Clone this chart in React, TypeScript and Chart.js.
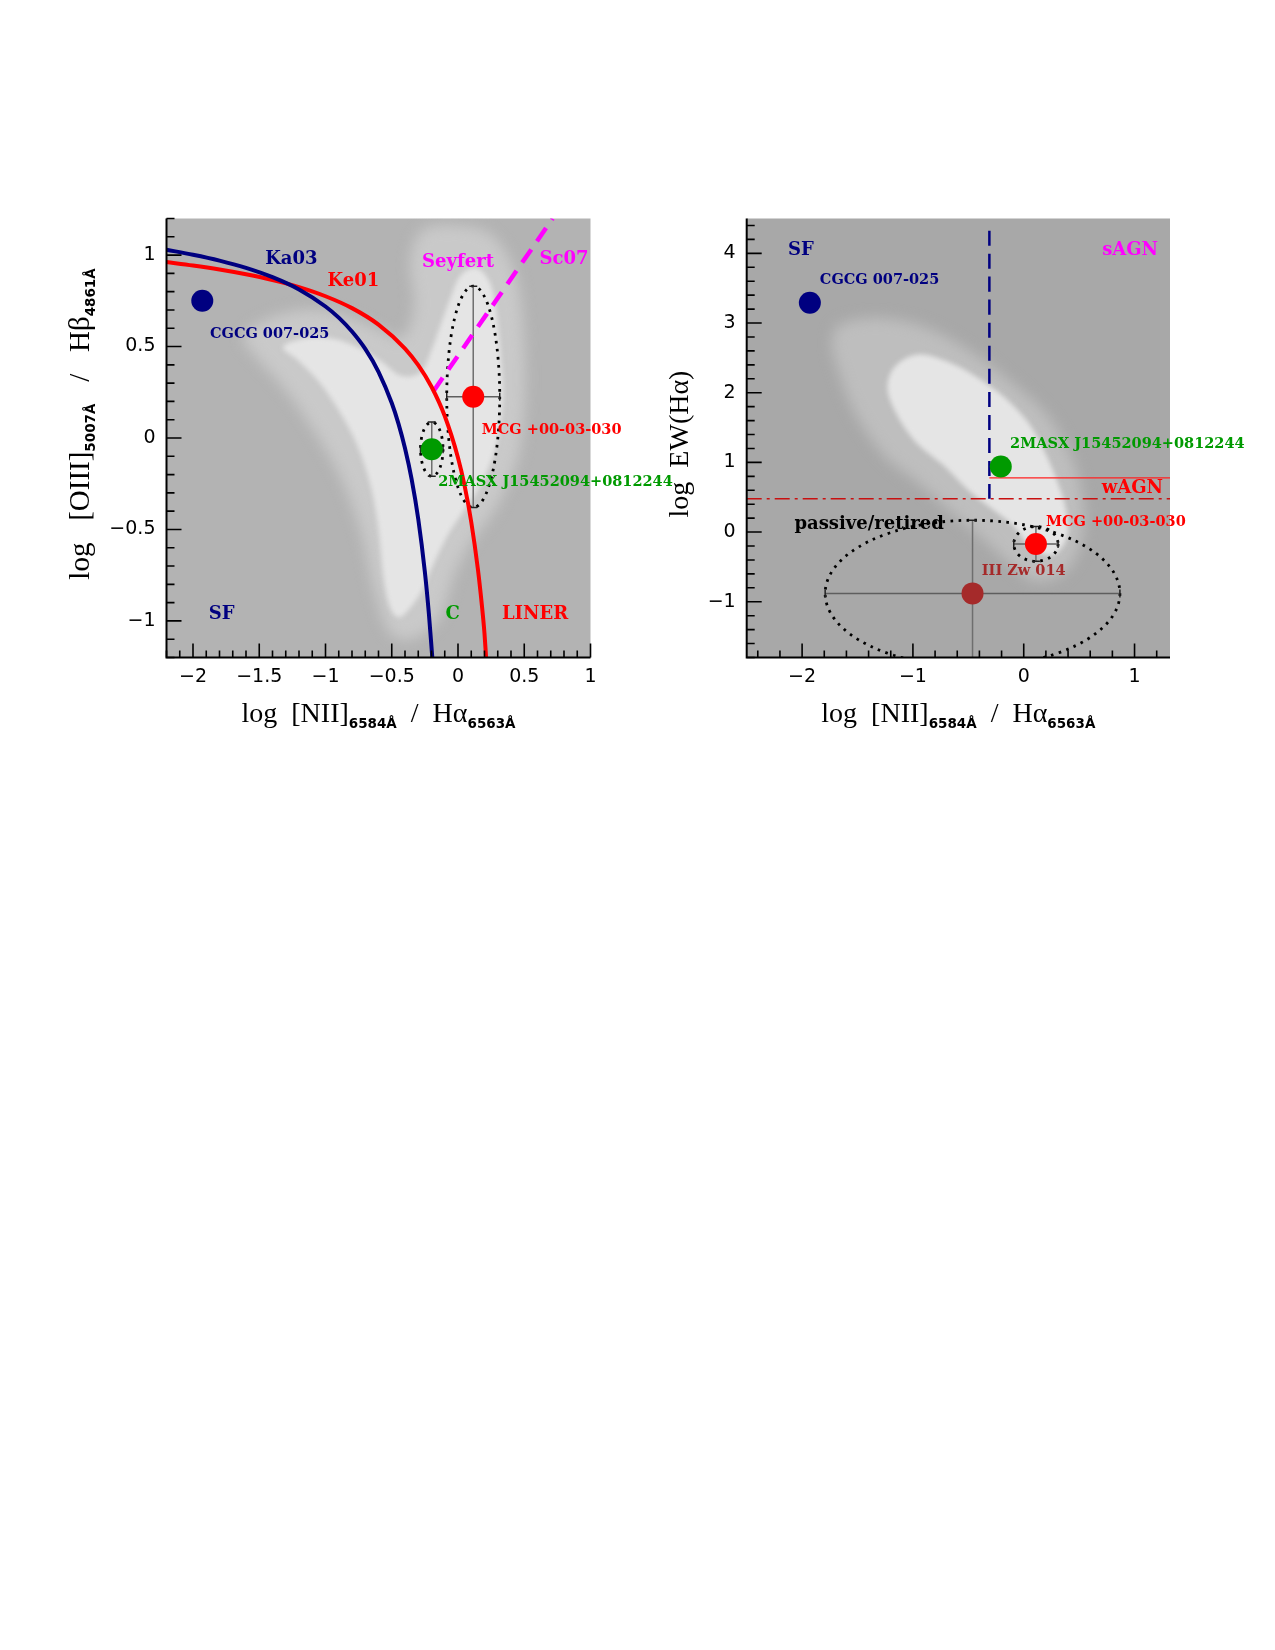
import React, { useEffect, useRef } from "react";
import { Chart, registerables } from "chart.js";

Chart.register(...registerables);

// ---------------- data ----------------
const GALAXY_NAMES = ["CGCG 007-025", "MCG +00-03-030", "2MASX J15452094+0812244", "III Zw 014"];
const GALAXY_COLORS = ["#000080", "#ff0000", "#009a00", "#a52a2a"];

// BPT diagram (log [NII]/Ha vs log [OIII]/Hb)
const BPT_X = [-1.93, 0.115, -0.198, null];
const BPT_Y = [0.75, 0.225, -0.061, null];
const BPT_XERR = [0, 0.2, 0.085, 0];
const BPT_YERR = [0, 0.605, 0.148, 0];
const BPT_NAME_X = [-1.872, 0.179, -0.149, null];
const BPT_NAME_Y = [0.57, 0.043, -0.24, null];

// WHAN diagram (log [NII]/Ha vs log EW(Ha))
const WHAN_X = [-1.93, 0.11, -0.207, -0.462];
const WHAN_Y = [3.29, -0.17, 0.94, -0.88];
const WHAN_XERR = [0, 0.2, 0, 1.33];
const WHAN_YERR = [0, 0.25, 0, 1.05];
const WHAN_NAME_X = [-1.84, 0.2, -0.123, -0.378];
const WHAN_NAME_Y = [3.61, 0.146, 1.255, -0.56];

// demarcation curves
const KA03_X = [-2.2, -2.0, -1.8, -1.6, -1.4, -1.2, -1.0, -0.9, -0.8, -0.7, -0.6, -0.5, -0.45, -0.4, -0.35, -0.3, -0.25, -0.22, -0.194];
const KA03_Y = [1.029, 1.002, 0.97, 0.93, 0.879, 0.812, 0.719, 0.658, 0.582, 0.487, 0.362, 0.191, 0.08, -0.056, -0.225, -0.443, -0.733, -0.959, -1.2];
const KE01_X = [-2.2, -2.0, -1.8, -1.6, -1.4, -1.2, -1.0, -0.8, -0.6, -0.4, -0.3, -0.2, -0.1, 0.0, 0.05, 0.1, 0.15, 0.18, 0.2, 0.212];
const KE01_Y = [0.962, 0.943, 0.921, 0.895, 0.864, 0.825, 0.775, 0.71, 0.62, 0.489, 0.398, 0.28, 0.12, -0.108, -0.262, -0.459, -0.716, -0.913, -1.069, -1.2];
const SC07_X = [-0.184, 0.714];
const SC07_Y = [0.257, 1.2];

// WHAN demarcation lines
const WHAN_SF_X = [-0.31, -0.31];
const WHAN_SF_Y = [0.477, 4.35];
const WHAN_WAGN_X = [-0.31, 1.32];
const WHAN_WAGN_Y = [0.778, 0.778];
const WHAN_PASSIVE_X = [-2.5, 1.32];
const WHAN_PASSIVE_Y = [0.477, 0.477];

// SDSS comparison sample outlines (sparse fringe and dense core)
const BPT_CLOUD_OUTER_X = [-1.62, -1.4, -1.15, -0.9, -0.62, -0.42, -0.33, -0.36, -0.26, 0.02, 0.27, 0.44, 0.5, 0.5, 0.44, 0.28, 0.1, -0.03, -0.13, -0.28, -0.44, -0.55, -0.65, -0.73, -0.87, -1.07, -1.3, -1.52];
const BPT_CLOUD_OUTER_Y = [0.56, 0.66, 0.7, 0.68, 0.6, 0.55, 0.72, 0.97, 1.14, 1.16, 1.1, 0.88, 0.52, 0.14, -0.14, -0.39, -0.57, -0.75, -0.97, -1.08, -1.1, -1.02, -0.78, -0.52, -0.24, 0.02, 0.26, 0.44];
const BPT_CLOUD_INNER_X = [-1.32, -1.12, -0.92, -0.74, -0.58, -0.43, -0.28, -0.2, -0.14, -0.06, 0.02, 0.14, 0.24, 0.29, 0.32, 0.34, 0.29, 0.17, 0.04, -0.06, -0.14, -0.21, -0.26, -0.34, -0.44, -0.51, -0.56, -0.6, -0.66, -0.76, -0.89, -1.04, -1.2];
const BPT_CLOUD_INNER_Y = [0.5, 0.55, 0.54, 0.49, 0.42, 0.34, 0.36, 0.48, 0.6, 0.76, 0.89, 0.93, 0.85, 0.69, 0.47, 0.22, -0.04, -0.26, -0.4, -0.51, -0.62, -0.73, -0.82, -0.91, -0.98, -0.93, -0.77, -0.5, -0.26, -0.04, 0.14, 0.3, 0.42];
const WHAN_CLOUD_OUTER_X = [-1.65, -1.29, -0.87, -0.45, -0.09, 0.21, 0.43, 0.54, 0.51, 0.35, 0.1, -0.09, -0.35, -0.63, -0.96, -1.26, -1.52, -1.67, -1.73];
const WHAN_CLOUD_OUTER_Y = [2.98, 3.07, 2.93, 2.56, 2.12, 1.68, 1.08, 0.4, -0.2, -0.6, -0.7, -0.5, -0.12, 0.26, 0.72, 1.1, 1.7, 2.31, 2.72];
const WHAN_CLOUD_INNER_X = [-1.16, -0.95, -0.65, -0.4, -0.15, 0.05, 0.18, 0.29, 0.37, 0.4, 0.33, 0.21, 0.05, -0.1, -0.3, -0.5, -0.72, -0.98, -1.15, -1.23];
const WHAN_CLOUD_INNER_Y = [2.38, 2.55, 2.42, 2.2, 1.9, 1.55, 1.18, 0.78, 0.4, 0.01, -0.25, -0.33, -0.2, 0.1, 0.35, 0.6, 0.95, 1.3, 1.7, 2.07];

// region labels
const BPT_REGION_TEXT = ["Ka03", "Ke01", "Seyfert", "Sc07", "SF", "C", "LINER"];
const BPT_REGION_X = [-1.258, -0.79, 0.0, 0.8, -1.783, -0.04, 0.581];
const BPT_REGION_Y = [0.977, 0.855, 0.962, 0.977, -0.963, -0.963, -0.963];
const BPT_REGION_COLOR = ["#000080", "#ff0000", "#ff00ff", "#ff00ff", "#000080", "#009a00", "#ff0000"];
const WHAN_REGION_TEXT = ["SF", "sAGN", "wAGN", "passive/retired"];
const WHAN_REGION_X = [-2.01, 0.96, 0.98, -1.395];
const WHAN_REGION_Y = [4.04, 4.05, 0.625, 0.109];
const WHAN_REGION_COLOR = ["#000080", "#ff00ff", "#ff0000", "#000000"];

// axes
const BPT_X_RANGE = [-2.2, 1.0];
const BPT_Y_RANGE = [-1.2, 1.2];
const BPT_X_TICKS = [-2, -1.5, -1, -0.5, 0, 0.5, 1];
const BPT_Y_TICKS = [-1, -0.5, 0, 0.5, 1];
const WHAN_X_RANGE = [-2.5, 1.32];
const WHAN_Y_RANGE = [-1.8, 4.5];
const WHAN_X_TICKS = [-2, -1, 0, 1];
const WHAN_Y_TICKS = [-1, 0, 1, 2, 3, 4];

// ---------------- helpers ----------------
const NAME_FONT = "bold 14.5px 'DejaVu Serif'";
const REGION_FONT = "bold 18px 'DejaVu Serif'";
const SUB_FONT = "bold 13.5px 'DejaVu Sans'";

function fmtTick(v: number) {
  const s = String(Math.round(v * 10) / 10);
  return s.replace("-", "\u2212");
}

function zip(xs: any[], ys: any[]) {
  const out: { x: number; y: number }[] = [];
  xs.forEach((x, i) => {
    if (x !== null && ys[i] !== null) out.push({ x, y: ys[i] });
  });
  return out;
}

function smoothClosed(ctx: CanvasRenderingContext2D, pts: { x: number; y: number }[]) {
  const n = pts.length;
  ctx.beginPath();
  ctx.moveTo(pts[0].x, pts[0].y);
  for (let i = 0; i < n; i++) {
    const p0 = pts[(i - 1 + n) % n];
    const p1 = pts[i];
    const p2 = pts[(i + 1) % n];
    const p3 = pts[(i + 2) % n];
    ctx.bezierCurveTo(
      p1.x + (p2.x - p0.x) / 6,
      p1.y + (p2.y - p0.y) / 6,
      p2.x - (p3.x - p1.x) / 6,
      p2.y - (p3.y - p1.y) / 6,
      p2.x,
      p2.y
    );
  }
  ctx.closePath();
}

type Seg = { t: string; sub?: boolean };

function drawTitle(ctx: CanvasRenderingContext2D, segs: Seg[], cx: number, cy: number, rotate: boolean, mainFont: string) {
  ctx.save();
  ctx.translate(cx, cy);
  if (rotate) ctx.rotate(-Math.PI / 2);
  let total = 0;
  const widths = segs.map((s) => {
    ctx.font = s.sub ? SUB_FONT : mainFont;
    const w = ctx.measureText(s.t).width;
    total += w;
    return w;
  });
  let x = -total / 2;
  ctx.fillStyle = "#000";
  ctx.textAlign = "left";
  ctx.textBaseline = "alphabetic";
  segs.forEach((s, i) => {
    ctx.font = s.sub ? SUB_FONT : mainFont;
    ctx.fillText(s.t, x, s.sub ? 15 : 9);
    x += widths[i];
  });
  ctx.restore();
}

interface PanelCfg {
  key: string;
  bg: string;
  fringe: string;
  outer: { x: number; y: number }[];
  inner: { x: number; y: number }[];
  px: any[];
  py: any[];
  xerr: number[];
  yerr: number[];
  ellipse: boolean[];
  names: any[];
  nameX: any[];
  nameY: any[];
  regionText: string[];
  regionX: number[];
  regionY: number[];
  regionColor: string[];
  xMajor: number[];
  yMajor: number[];
  xMinor: number;
  yMinor: number;
  xTitle: Seg[];
  yTitle: Seg[];
  xTitleFont: string;
  yTitleFont: string;
  yTitleDx: number;
  yTitleDy: number;
}

function makePlugin(cfg: PanelCfg) {
  return {
    id: "panel_" + cfg.key,
    beforeDraw(chart: any) {
      const { ctx, chartArea: a } = chart;
      ctx.save();
      ctx.fillStyle = cfg.bg;
      ctx.fillRect(a.left, a.top, a.right - a.left, a.bottom - a.top);
      ctx.restore();
    },
    beforeDatasetsDraw(chart: any) {
      const { ctx, chartArea: a } = chart;
      const xs = chart.scales.x;
      const ys = chart.scales.y;
      const toPx = (p: { x: number; y: number }) => ({ x: xs.getPixelForValue(p.x), y: ys.getPixelForValue(p.y) });
      ctx.save();
      ctx.beginPath();
      ctx.rect(a.left, a.top, a.right - a.left, a.bottom - a.top);
      ctx.clip();
      // comparison sample cloud
      ctx.filter = "blur(7px)";
      ctx.fillStyle = cfg.fringe;
      smoothClosed(ctx, cfg.outer.map(toPx));
      ctx.fill();
      ctx.filter = "blur(2.5px)";
      ctx.fillStyle = "#e5e5e5";
      smoothClosed(ctx, cfg.inner.map(toPx));
      ctx.fill();
      ctx.filter = "none";
      // error ellipses and bars
      cfg.px.forEach((x, i) => {
        if (x === null) return;
        const y = cfg.py[i];
        const cx = xs.getPixelForValue(x);
        const cy = ys.getPixelForValue(y);
        const ex = cfg.xerr[i];
        const ey = cfg.yerr[i];
        const rx = Math.abs(xs.getPixelForValue(x + ex) - cx);
        const ry = Math.abs(ys.getPixelForValue(y + ey) - cy);
        if (cfg.ellipse[i] && rx > 0 && ry > 0) {
          ctx.save();
          ctx.strokeStyle = "#000";
          ctx.lineWidth = 2.8;
          ctx.setLineDash([2.6, 5.4]);
          ctx.beginPath();
          ctx.ellipse(cx, cy, rx, ry, 0, 0, Math.PI * 2);
          ctx.stroke();
          ctx.restore();
        }
        ctx.save();
        ctx.lineWidth = 1.5;
        if (ex > 0) {
          ctx.strokeStyle = "#5e5e5e";
          ctx.beginPath();
          ctx.moveTo(cx - rx, cy);
          ctx.lineTo(cx + rx, cy);
          ctx.stroke();
          ctx.strokeStyle = "#222";
          ctx.beginPath();
          ctx.moveTo(cx - rx, cy - 4);
          ctx.lineTo(cx - rx, cy + 4);
          ctx.moveTo(cx + rx, cy - 4);
          ctx.lineTo(cx + rx, cy + 4);
          ctx.stroke();
        }
        if (ey > 0) {
          ctx.strokeStyle = "#6e6e6e";
          ctx.beginPath();
          ctx.moveTo(cx, cy - ry);
          ctx.lineTo(cx, cy + ry);
          ctx.stroke();
          ctx.strokeStyle = "#222";
          ctx.beginPath();
          ctx.moveTo(cx - 4, cy - ry);
          ctx.lineTo(cx + 4, cy - ry);
          ctx.moveTo(cx - 4, cy + ry);
          ctx.lineTo(cx + 4, cy + ry);
          ctx.stroke();
        }
        ctx.restore();
      });
      ctx.restore();
    },
    afterDraw(chart: any) {
      const { ctx, chartArea: a } = chart;
      const xs = chart.scales.x;
      const ys = chart.scales.y;
      ctx.save();
      // axes
      ctx.strokeStyle = "#000";
      ctx.lineWidth = 2;
      ctx.beginPath();
      ctx.moveTo(a.left, a.top);
      ctx.lineTo(a.left, a.bottom);
      ctx.lineTo(a.right, a.bottom);
      ctx.stroke();
      ctx.lineWidth = 1.6;
      const near = (v: number, arr: number[]) => arr.some((m) => Math.abs(m - v) < 1e-6);
      ctx.beginPath();
      const xStart = Math.ceil(xs.min / cfg.xMinor - 1e-6);
      for (let k = xStart; k * cfg.xMinor <= xs.max + 1e-6; k++) {
        const v = Math.round(k * cfg.xMinor * 1000) / 1000;
        const p = xs.getPixelForValue(v);
        const len = near(v, cfg.xMajor) ? 14 : 7;
        ctx.moveTo(p, a.bottom);
        ctx.lineTo(p, a.bottom - len);
      }
      const yStart = Math.ceil(ys.min / cfg.yMinor - 1e-6);
      for (let k = yStart; k * cfg.yMinor <= ys.max + 1e-6; k++) {
        const v = Math.round(k * cfg.yMinor * 1000) / 1000;
        const p = ys.getPixelForValue(v);
        const len = near(v, cfg.yMajor) ? 15 : 8;
        ctx.moveTo(a.left, p);
        ctx.lineTo(a.left + len, p);
      }
      ctx.stroke();
      // region labels
      ctx.textBaseline = "middle";
      ctx.textAlign = "center";
      ctx.font = REGION_FONT;
      cfg.regionText.forEach((t, i) => {
        ctx.fillStyle = cfg.regionColor[i];
        ctx.fillText(t, xs.getPixelForValue(cfg.regionX[i]), ys.getPixelForValue(cfg.regionY[i]));
      });
      // galaxy names
      ctx.textAlign = "left";
      ctx.font = NAME_FONT;
      cfg.names.forEach((t, i) => {
        if (cfg.nameX[i] === null) return;
        ctx.fillStyle = GALAXY_COLORS[i];
        ctx.fillText(t, xs.getPixelForValue(cfg.nameX[i]), ys.getPixelForValue(cfg.nameY[i]));
      });
      // axis titles
      drawTitle(ctx, cfg.xTitle, (a.left + a.right) / 2, a.bottom + 55, false, cfg.xTitleFont);
      drawTitle(ctx, cfg.yTitle, a.left - cfg.yTitleDx, (a.top + a.bottom) / 2 + cfg.yTitleDy, true, cfg.yTitleFont);
      ctx.restore();
    },
  };
}

const X_TITLE: Seg[] = [
  { t: "log  [NII]" },
  { t: "6584\u00c5", sub: true },
  { t: "  /  H\u03b1" },
  { t: "6563\u00c5", sub: true },
];
const BPT_Y_TITLE: Seg[] = [
  { t: "log   [OIII]" },
  { t: "5007\u00c5", sub: true },
  { t: "   /   H\u03b2" },
  { t: "4861\u00c5", sub: true },
];
const WHAN_Y_TITLE: Seg[] = [{ t: "log  EW(H\u03b1)" }];

function scaleOpts(range: number[], ticks: number[], isX: boolean, size: number) {
  return {
    type: "linear",
    min: range[0],
    max: range[1],
    grid: { display: false, drawTicks: false },
    border: { display: false },
    ticks: {
      color: "#000",
      font: { family: "'DejaVu Sans'", size: 19 },
      padding: isX ? 8 : 11,
      maxRotation: 0,
      autoSkip: false,
      includeBounds: false,
      callback: (v: number) => fmtTick(v),
    },
    afterBuildTicks: (s: any) => {
      s.ticks = ticks.map((v) => ({ value: v }));
    },
    afterFit: (s: any) => {
      if (isX) s.height = size;
      else s.width = size;
    },
  };
}

function lineDs(xs: number[], ys: number[], color: string, width: number, dash: number[], order: number) {
  return {
    type: "line",
    data: zip(xs, ys),
    borderColor: color,
    borderWidth: width,
    borderDash: dash,
    pointRadius: 0,
    fill: false,
    tension: 0,
    cubicInterpolationMode: "monotone",
    order,
  };
}

function pointDs(xs: any[], ys: any[]) {
  const data: any[] = [];
  const colors: string[] = [];
  xs.forEach((x, i) => {
    if (x === null) return;
    data.push({ x, y: ys[i] });
    colors.push(GALAXY_COLORS[i]);
  });
  return {
    type: "scatter",
    data,
    pointRadius: 11,
    pointBackgroundColor: colors,
    pointBorderWidth: 0,
    pointBorderColor: colors,
    showLine: false,
    order: 0,
  };
}

function baseOptions(padRight: number, xScale: any, yScale: any) {
  return {
    responsive: false,
    maintainAspectRatio: false,
    devicePixelRatio: 1,
    animation: false,
    events: [],
    layout: { padding: { left: 0, top: 68.5, right: padRight, bottom: 0 } },
    plugins: { legend: { display: false }, tooltip: { enabled: false } },
    scales: { x: xScale, y: yScale },
  };
}

function bptConfig() {
  const cfg: PanelCfg = {
    key: "bpt",
    bg: "#b3b3b3",
    fringe: "#c9c9c9",
    outer: zip(BPT_CLOUD_OUTER_X, BPT_CLOUD_OUTER_Y),
    inner: zip(BPT_CLOUD_INNER_X, BPT_CLOUD_INNER_Y),
    px: BPT_X,
    py: BPT_Y,
    xerr: BPT_XERR,
    yerr: BPT_YERR,
    ellipse: [false, true, true, false],
    names: GALAXY_NAMES,
    nameX: BPT_NAME_X,
    nameY: BPT_NAME_Y,
    regionText: BPT_REGION_TEXT,
    regionX: BPT_REGION_X,
    regionY: BPT_REGION_Y,
    regionColor: BPT_REGION_COLOR,
    xMajor: BPT_X_TICKS,
    yMajor: BPT_Y_TICKS,
    xMinor: 0.1,
    yMinor: 0.1,
    xTitle: X_TITLE,
    yTitle: BPT_Y_TITLE,
    xTitleFont: "28px 'Liberation Serif'",
    yTitleFont: "29px 'Liberation Serif'",
    yTitleDx: 87,
    yTitleDy: -14,
  };
  return {
    type: "scatter",
    data: {
      datasets: [
        pointDs(BPT_X, BPT_Y),
        lineDs(KA03_X, KA03_Y, "#000080", 4, [], 1),
        lineDs(KE01_X, KE01_Y, "#ff0000", 4, [], 2),
        lineDs(SC07_X, SC07_Y, "#ff00ff", 4.5, [16, 10], 3),
      ],
    },
    options: baseOptions(
      109.5,
      scaleOpts(BPT_X_RANGE, BPT_X_TICKS, true, 92.5),
      scaleOpts(BPT_Y_RANGE, BPT_Y_TICKS, false, 166.5)
    ),
    plugins: [makePlugin(cfg)],
  };
}

function whanConfig() {
  const cfg: PanelCfg = {
    key: "whan",
    bg: "#a8a8a8",
    fringe: "#bebebe",
    outer: zip(WHAN_CLOUD_OUTER_X, WHAN_CLOUD_OUTER_Y),
    inner: zip(WHAN_CLOUD_INNER_X, WHAN_CLOUD_INNER_Y),
    px: WHAN_X,
    py: WHAN_Y,
    xerr: WHAN_XERR,
    yerr: WHAN_YERR,
    ellipse: [false, true, false, true],
    names: GALAXY_NAMES,
    nameX: WHAN_NAME_X,
    nameY: WHAN_NAME_Y,
    regionText: WHAN_REGION_TEXT,
    regionX: WHAN_REGION_X,
    regionY: WHAN_REGION_Y,
    regionColor: WHAN_REGION_COLOR,
    xMajor: WHAN_X_TICKS,
    yMajor: WHAN_Y_TICKS,
    xMinor: 0.2,
    yMinor: 0.2,
    xTitle: X_TITLE,
    yTitle: WHAN_Y_TITLE,
    xTitleFont: "28px 'Liberation Serif'",
    yTitleFont: "28px 'Liberation Serif'",
    yTitleDx: 68,
    yTitleDy: 6,
  };
  return {
    type: "scatter",
    data: {
      datasets: [
        pointDs(WHAN_X, WHAN_Y),
        lineDs(WHAN_SF_X, WHAN_SF_Y, "#000080", 2.5, [15, 8], 1),
        lineDs(WHAN_WAGN_X, WHAN_WAGN_Y, "#ff2020", 1.2, [], 2),
        lineDs(WHAN_PASSIVE_X, WHAN_PASSIVE_Y, "#c81010", 1.5, [15, 5, 3, 5], 3),
      ],
    },
    options: baseOptions(
      105,
      scaleOpts(WHAN_X_RANGE, WHAN_X_TICKS, true, 92.5),
      scaleOpts(WHAN_Y_RANGE, WHAN_Y_TICKS, false, 126.7)
    ),
    plugins: [makePlugin(cfg)],
  };
}

function Panel({ make, left, top, width, height }: any) {
  const ref = useRef<HTMLCanvasElement | null>(null);
  useEffect(() => {
    if (!ref.current) return;
    const chart = new Chart(ref.current, make() as any);
    return () => chart.destroy();
  }, []);
  return (
    <canvas
      ref={ref}
      width={width}
      height={height}
      style={{ position: "absolute", left, top, width, height }}
    />
  );
}

export default function App() {
  return (
    <div style={{ position: "absolute", left: 0, top: 0, width: 1275, height: 1650, background: "#fff" }}>
      <Panel make={bptConfig} left={0} top={150} width={700} height={600} />
      <Panel make={whanConfig} left={620} top={150} width={655} height={600} />
    </div>
  );
}
